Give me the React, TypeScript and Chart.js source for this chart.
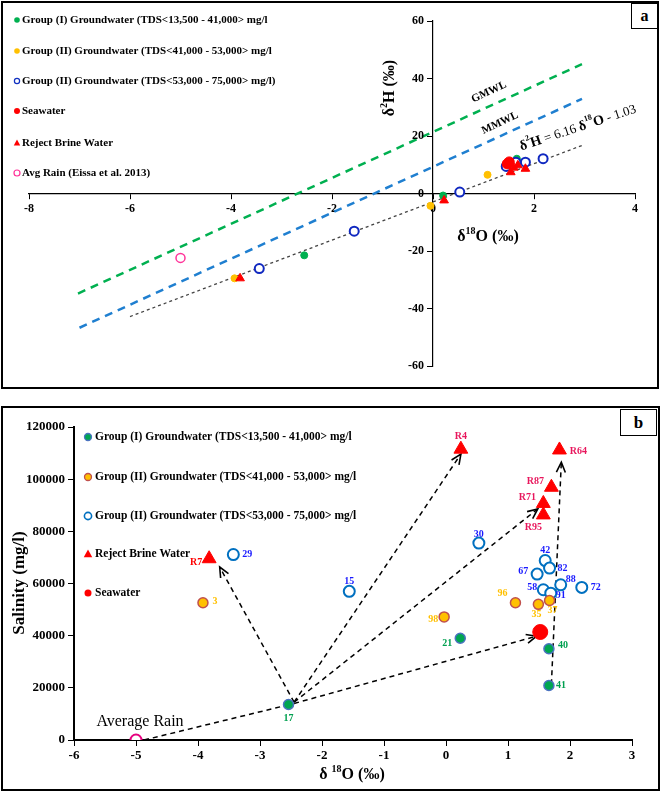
import React, { useEffect, useRef } from "react";
import { Chart, registerables } from "chart.js";
Chart.register(...registerables);

type Pt = [number, number];

// ---------------- Panel a data (δ18O vs δ2H) ----------------
const A_GROUP1: Pt[] = [[-2.55, -21.5], [0.2, -0.7], [1.66, 12.1]];
const A_GROUP2: Pt[] = [[-3.93, -29.5], [-0.05, -4.3], [1.08, 6.5]];
const A_GROUP3: Pt[] = [[-3.44, -26.1], [-1.56, -13.1], [0.53, 0.5], [1.45, 9.4], [1.64, 10.9], [1.83, 10.9], [2.18, 12.1]];
const A_SEAWATER: Pt[] = [[1.47, 10.3], [1.51, 11.0]];
const A_BRINE: Pt[] = [[-3.82, -29.5], [0.22, -2.4], [1.54, 7.4], [1.6, 9.0], [1.68, 9.8], [1.83, 8.6]];
const A_RAIN: Pt[] = [[-5.0, -22.4]];
const A_GMWL: Pt[] = [[-7.03, -34.8], [2.95, 45.0]];
const A_MMWL: Pt[] = [[-7.0, -46.7], [2.95, 32.9]];
const A_FIT: Pt[] = [[-6.0, -42.8], [2.95, 16.7]];
const A_X_TICKS = { min: -8, max: 4, step: 2 };
const A_Y_TICKS = { min: -60, max: 60, step: 20 };
const A_LEGEND = [
  "Group (I) Groundwater (TDS<13,500 - 41,000> mg/l",
  "Group (II) Groundwater (TDS<41,000 - 53,000> mg/l",
  "Group (II) Groundwater (TDS<53,000 - 75,000> mg/l)",
  "Seawater",
  "Reject Brine Water",
  "Avg Rain (Eissa et al. 2013)",
];

// ---------------- Panel b data (δ18O vs salinity) ----------------
const B_GROUP1: Pt[] = [[-2.54, 13600], [0.23, 39000], [1.66, 35000], [1.66, 20900]];
const B_GROUP1_IDS = ["17", "21", "40", "41"];
const B_GROUP2: Pt[] = [[-3.92, 52600], [-0.03, 47200], [1.12, 52600], [1.49, 52000], [1.67, 53500]];
const B_GROUP2_IDS = ["3", "98", "96", "35", "37"];
const B_GROUP3: Pt[] = [[-3.43, 71100], [-1.56, 57000], [0.53, 75500], [1.6, 68800], [1.67, 65900], [1.47, 63600], [1.85, 59500], [2.19, 58500], [1.57, 57600], [1.69, 56300]];
const B_GROUP3_IDS = ["29", "15", "30", "42", "82", "67", "88", "72", "58", "91"];
const B_BRINE: Pt[] = [[-3.82, 69500], [0.24, 111500], [1.83, 111200], [1.7, 96900], [1.57, 90700], [1.57, 86300]];
const B_BRINE_IDS = ["R7", "R4", "R64", "R87", "R71", "R95"];
const B_SEAWATER: Pt[] = [[1.52, 41400]];
const B_RAIN: Pt[] = [[-5.0, 0]];
const B_ARROWS: [Pt, Pt][] = [
  [[-2.45, 14500], [-3.65, 66300]],
  [[-2.45, 14500], [0.24, 109600]],
  [[-2.45, 14500], [1.48, 88600]],
  [[-2.45, 14000], [1.46, 39800]],
  [[1.7, 21400], [1.86, 106500]],
];
const B_RAIN_PATH: Pt[] = [[-4.87, 0], [-2.45, 14000]];
const B_X_TICKS = { min: -6, max: 3, step: 1 };
const B_Y_TICKS = { min: 0, max: 120000, step: 20000 };
const B_LEGEND = [
  "Group (I) Groundwater (TDS<13,500 - 41,000> mg/l",
  "Group (II) Groundwater (TDS<41,000 - 53,000> mg/l",
  "Group (II) Groundwater (TDS<53,000 - 75,000> mg/l",
  "Reject Brine Water",
  "Seawater",
];

// ---------------- styles ----------------
const SERIF = '"Liberation Serif", "Times New Roman", serif';
const LABEL_OFFSETS: Record<string, [number, number]> = {
  "17": [0, 14], "21": [-13, 5], "40": [14, -3], "41": [12, 0],
  "3": [12, -1], "98": [-11, 3], "96": [-13, -9], "35": [-2, 10], "37": [3, 10],
  "29": [14, 0], "15": [0, -10], "30": [0, -9], "42": [0, -10], "82": [13, 0], "67": [-14, -3],
  "88": [10, -5], "72": [14, 0], "58": [-11, -2], "91": [10, 2],
  R7: [-13, 4], R4: [0, -13], R64: [19, 1], R87: [-16, -6], R71: [-16, -6], R95: [-10, 13],
};

const toXY = (arr: Pt[]) => arr.map(([x, y]) => ({ x, y }));

type Seg = { t: string; size: number; bold?: boolean; dy?: number };
function rich(ctx: CanvasRenderingContext2D, segs: Seg[], x: number, y: number, angle: number) {
  ctx.save();
  ctx.translate(x, y);
  ctx.rotate(angle);
  ctx.textBaseline = "middle";
  ctx.textAlign = "left";
  let total = 0;
  for (const s of segs) {
    ctx.font = `${s.bold ? "bold " : ""}${s.size}px ${SERIF}`;
    total += ctx.measureText(s.t).width;
  }
  let cx = -total / 2;
  for (const s of segs) {
    ctx.font = `${s.bold ? "bold " : ""}${s.size}px ${SERIF}`;
    ctx.fillText(s.t, cx, s.dy || 0);
    cx += ctx.measureText(s.t).width;
  }
  ctx.restore();
}

function marker(ctx: CanvasRenderingContext2D, kind: string, x: number, y: number, r: number, fill: string | null, stroke: string | null, lw = 1) {
  ctx.save();
  ctx.beginPath();
  if (kind === "tri") {
    ctx.moveTo(x, y - r);
    ctx.lineTo(x + r * 0.95, y + r * 0.7);
    ctx.lineTo(x - r * 0.95, y + r * 0.7);
    ctx.closePath();
  } else {
    ctx.arc(x, y, r, 0, Math.PI * 2);
  }
  if (fill) { ctx.fillStyle = fill; ctx.fill(); }
  if (stroke) { ctx.lineWidth = lw; ctx.strokeStyle = stroke; ctx.stroke(); }
  ctx.restore();
}

// draws the y-axis tick labels (from the scale's own ticks) to the left of the axis line
function yTickLabels(size: number, axisValue: number, gap: number) {
  return {
    id: "yTickLabels",
    afterDraw(chart: any) {
      const ctx: CanvasRenderingContext2D = chart.ctx;
      const sx = chart.scales.x, sy = chart.scales.y;
      const ax = sx.getPixelForValue(axisValue);
      ctx.save();
      ctx.fillStyle = "#000";
      ctx.font = `bold ${size}px ${SERIF}`;
      ctx.textAlign = "right";
      ctx.textBaseline = "middle";
      sy.ticks.forEach((t: any) => ctx.fillText(String(t.value), ax - gap, sy.getPixelForValue(t.value)));
      ctx.restore();
    },
  };
}

function axisOpts(t: { min: number; max: number; step: number }, pos: any, size: number, showLabels: boolean, borderW = 1.2) {
  return {
    type: "linear",
    position: pos,
    min: t.min,
    max: t.max,
    ticks: {
      display: showLabels,
      stepSize: t.step,
      autoSkip: false,
      maxRotation: 0,
      color: "#000",
      padding: 3,
      font: { family: SERIF, size, weight: "bold" },
      callback: (v: any) => String(v),
    },
    grid: { display: true, drawOnChartArea: false, drawTicks: true, tickLength: 5, color: "#000", lineWidth: 1 },
    border: { display: true, color: "#000", width: borderW },
  };
}

// ---------------- Panel a chart ----------------
function buildA(): any {
  const annot = {
    id: "annotA",
    afterDraw(chart: any) {
      const ctx: CanvasRenderingContext2D = chart.ctx;
      ctx.save();
      ctx.fillStyle = "#000";
      // legend
      const ly = [17, 48, 78, 108, 140, 170];
      const lx = 14;
      marker(ctx, "c", lx, ly[0], 2.8, "#00b050", null);
      marker(ctx, "c", lx, ly[1], 2.8, "#ffc000", null);
      marker(ctx, "c", lx, ly[2], 2.6, "#fff", "#1030c0", 1.2);
      marker(ctx, "c", lx, ly[3], 3, "#ff0000", null);
      marker(ctx, "tri", lx, ly[4], 3.4, "#ff0000", null);
      marker(ctx, "c", lx, ly[5], 3, "#fff", "#ff3399", 1.2);
      ctx.font = `bold 11px ${SERIF}`;
      ctx.textBaseline = "middle";
      ctx.textAlign = "left";
      A_LEGEND.forEach((t, i) => ctx.fillText(t, lx + 5, ly[i]));
      // line labels
      rich(ctx, [{ t: "GMWL", size: 11, bold: true }], 486, 89, -0.44);
      rich(ctx, [{ t: "MMWL", size: 11, bold: true }], 497, 120, -0.44);
      rich(ctx, [
        { t: "δ", size: 14, bold: true }, { t: "2", size: 8, bold: true, dy: -6 }, { t: "H", size: 14, bold: true },
        { t: " = 6.16 ", size: 13 }, { t: "δ", size: 14, bold: true }, { t: "18", size: 8, bold: true, dy: -6 },
        { t: "O", size: 14, bold: true }, { t: " - 1.03", size: 13 },
      ], 575, 125, -0.32);
      // axis titles
      rich(ctx, [{ t: "δ", size: 16, bold: true }, { t: "18", size: 10, bold: true, dy: -6 }, { t: "O (‰)", size: 16, bold: true }], 485, 234, 0);
      rich(ctx, [{ t: "δ", size: 16, bold: true }, { t: "2", size: 10, bold: true, dy: -6 }, { t: "H (‰)", size: 16, bold: true }], 387, 85, -Math.PI / 2);
      ctx.restore();
    },
  };
  const lineDs = (data: Pt[], color: string, dash: number[], w: number) => ({
    data: toXY(data), showLine: true, borderColor: color, borderWidth: w, borderDash: dash,
    pointRadius: 0, fill: false, order: 10,
  });
  const pts = (data: Pt[], style: string, r: number, bg: string, bc: string, bw: number, order = 1) => ({
    data: toXY(data), showLine: false, pointStyle: style, pointRadius: r, pointHoverRadius: r,
    backgroundColor: bg, borderColor: bc, borderWidth: bw, order,
  });
  return {
    type: "scatter",
    data: {
      datasets: [
        lineDs(A_GMWL, "#00b050", [8, 6], 2.5),
        lineDs(A_MMWL, "#1f7fd0", [8, 6], 2.5),
        lineDs(A_FIT, "#444", [3, 3], 1.3),
        pts(A_GROUP1, "circle", 3.5, "#00b050", "#00b050", 1, 3),
        pts(A_GROUP2, "circle", 3.5, "#ffc000", "#ffc000", 1, 4),
        pts(A_GROUP3, "circle", 4.5, "#ffffff", "#1028c0", 2, 2),
        pts(A_SEAWATER, "circle", 5, "#ff0000", "#ff0000", 1, 1),
        pts(A_BRINE, "triangle", 5, "#ff0000", "#ff0000", 1, 0),
        pts(A_RAIN, "circle", 4.5, "#ffffff", "#ff3399", 1.5, 1),
      ],
    },
    options: {
      responsive: false,
      animation: false,
      devicePixelRatio: 1,
      layout: { padding: { left: 26, right: 21, top: 18, bottom: 21 } },
      plugins: { legend: { display: false }, tooltip: { enabled: false } },
      scales: {
        x: axisOpts(A_X_TICKS, { y: 0 }, 12, true),
        y: axisOpts(A_Y_TICKS, { x: 0 }, 12, false),
      },
    },
    plugins: [annot, yTickLabels(12, 0, 9)],
  };
}

// ---------------- Panel b chart ----------------
function buildB(): any {
  const arrows = {
    id: "arrowsB",
    beforeDatasetsDraw(chart: any) {
      const ctx: CanvasRenderingContext2D = chart.ctx;
      const sx = chart.scales.x, sy = chart.scales.y;
      ctx.save();
      ctx.strokeStyle = "#000";
      ctx.lineWidth = 1.5;
      const seg = (a: Pt, b: Pt, head: boolean) => {
        const x1 = sx.getPixelForValue(a[0]), y1 = sy.getPixelForValue(a[1]);
        const x2 = sx.getPixelForValue(b[0]), y2 = sy.getPixelForValue(b[1]);
        ctx.setLineDash([5, 4]);
        ctx.beginPath(); ctx.moveTo(x1, y1); ctx.lineTo(x2, y2); ctx.stroke();
        if (head) {
          const ang = Math.atan2(y2 - y1, x2 - x1);
          const L = 11, s = 0.42;
          ctx.setLineDash([]);
          ctx.lineWidth = 1.6;
          ctx.beginPath();
          ctx.moveTo(x2 - L * Math.cos(ang - s), y2 - L * Math.sin(ang - s));
          ctx.lineTo(x2, y2);
          ctx.lineTo(x2 - L * Math.cos(ang + s), y2 - L * Math.sin(ang + s));
          ctx.stroke();
          ctx.lineWidth = 1.5;
        }
      };
      seg(B_RAIN_PATH[0], B_RAIN_PATH[1], false);
      B_ARROWS.forEach(([a, b]) => seg(a, b, true));
      ctx.restore();
    },
  };
  const annot = {
    id: "annotB",
    afterDraw(chart: any) {
      const ctx: CanvasRenderingContext2D = chart.ctx;
      const sx = chart.scales.x, sy = chart.scales.y;
      ctx.save();
      // point labels
      ctx.font = `bold 10px ${SERIF}`;
      ctx.textAlign = "center";
      ctx.textBaseline = "middle";
      const lab = (pts: Pt[], ids: string[], color: (id: string) => string) => {
        pts.forEach((p, i) => {
          const id = ids[i];
          const off = LABEL_OFFSETS[id] || [0, 0];
          ctx.fillStyle = color(id);
          ctx.fillText(id, sx.getPixelForValue(p[0]) + off[0], sy.getPixelForValue(p[1]) + off[1]);
        });
      };
      lab(B_GROUP1, B_GROUP1_IDS, () => "#00a050");
      lab(B_GROUP2, B_GROUP2_IDS, () => "#ffc000");
      lab(B_GROUP3, B_GROUP3_IDS, () => "#1a1aff");
      lab(B_BRINE, B_BRINE_IDS, (id) => (id === "R7" ? "#ff0000" : "#e8175d"));
      // legend
      const ly = [29, 69, 108, 146, 185];
      const lx = 85;
      marker(ctx, "c", lx, ly[0], 3.5, "#00a651", "#4a72c0", 1.3);
      marker(ctx, "c", lx, ly[1], 3.5, "#ffc000", "#c0504d", 1.3);
      marker(ctx, "c", lx, ly[2], 3.6, "#fff", "#0070c0", 1.6);
      marker(ctx, "tri", lx, ly[3], 4.5, "#ff0000", null);
      marker(ctx, "c", lx, ly[4], 3.5, "#ff0000", null);
      ctx.fillStyle = "#000";
      ctx.font = `bold 11.5px ${SERIF}`;
      ctx.textAlign = "left";
      B_LEGEND.forEach((t, i) => ctx.fillText(t, lx + 7, ly[i]));
      // texts
      ctx.font = `16px ${SERIF}`;
      ctx.textAlign = "center";
      ctx.fillText("Average Rain", 137, 314);
      rich(ctx, [{ t: "Salinity (mg/l)", size: 17, bold: true }], 17, 175, -Math.PI / 2);
      rich(ctx, [{ t: "δ ", size: 16, bold: true }, { t: "18", size: 10, bold: true, dy: -6 }, { t: "O (‰)", size: 16, bold: true }], 349, 367, 0);
      ctx.restore();
    },
  };
  const pts = (data: Pt[], style: string, r: number, bg: string, bc: string, bw: number, order = 1) => ({
    data: toXY(data), showLine: false, pointStyle: style, pointRadius: r, pointHoverRadius: r,
    backgroundColor: bg, borderColor: bc, borderWidth: bw, order,
  });
  return {
    type: "scatter",
    data: {
      datasets: [
        pts(B_GROUP1, "circle", 5, "#00a651", "#4a72c0", 1.5, 2),
        pts(B_GROUP2, "circle", 5, "#ffc000", "#c0504d", 1.5, 2),
        pts(B_GROUP3, "circle", 5.5, "#ffffff", "#0070c0", 2, 2),
        pts(B_BRINE, "triangle", 8, "#ff0000", "#ff0000", 1, 1),
        pts(B_SEAWATER, "circle", 7.5, "#ff0000", "#ff0000", 1, 1),
        pts(B_RAIN, "circle", 5.5, "#ffffff", "#e6007e", 2, 1),
      ],
    },
    options: {
      responsive: false,
      animation: false,
      devicePixelRatio: 1,
      layout: { padding: { left: 71, right: 26, top: 19, bottom: 48 } },
      plugins: { legend: { display: false }, tooltip: { enabled: false } },
      scales: {
        x: axisOpts(B_X_TICKS, { y: 0 }, 13, true, 2),
        y: axisOpts(B_Y_TICKS, { x: -6 }, 13, false, 2),
      },
    },
    plugins: [arrows, annot, yTickLabels(13, -6, 9)],
  };
}

function Panel({ build, left, top, width, height }: { build: () => any; left: number; top: number; width: number; height: number }) {
  const ref = useRef<HTMLCanvasElement>(null);
  useEffect(() => {
    const chart = new Chart(ref.current as HTMLCanvasElement, build());
    return () => chart.destroy();
  }, [build]);
  return (
    <canvas
      ref={ref}
      width={width}
      height={height}
      style={{ position: "absolute", left, top, width, height }}
    />
  );
}

const boxStyle = (left: number, top: number, width: number, height: number, bw: number): React.CSSProperties => ({
  position: "absolute", left, top, width, height, border: `${bw}px solid #000`, boxSizing: "border-box", background: "transparent",
});

export default function App() {
  return (
    <div style={{ position: "absolute", left: 0, top: 0, width: 662, height: 792, background: "#fff", fontFamily: SERIF }}>
      <div style={boxStyle(1, 1, 658, 388, 2)} />
      <div style={boxStyle(1, 406, 659, 385, 2)} />
      <Panel build={buildA} left={3} top={3} width={653} height={384} />
      <Panel build={buildB} left={3} top={408} width={655} height={380} />
      <div style={{ ...boxStyle(631, 3, 27, 26, 1.5), background: "#fff", display: "flex", alignItems: "center", justifyContent: "center", fontWeight: "bold", fontSize: 16 }}>a</div>
      <div style={{ ...boxStyle(620, 409, 37, 27, 1.5), background: "#fff", display: "flex", alignItems: "center", justifyContent: "center", fontWeight: "bold", fontSize: 17 }}>b</div>
    </div>
  );
}
